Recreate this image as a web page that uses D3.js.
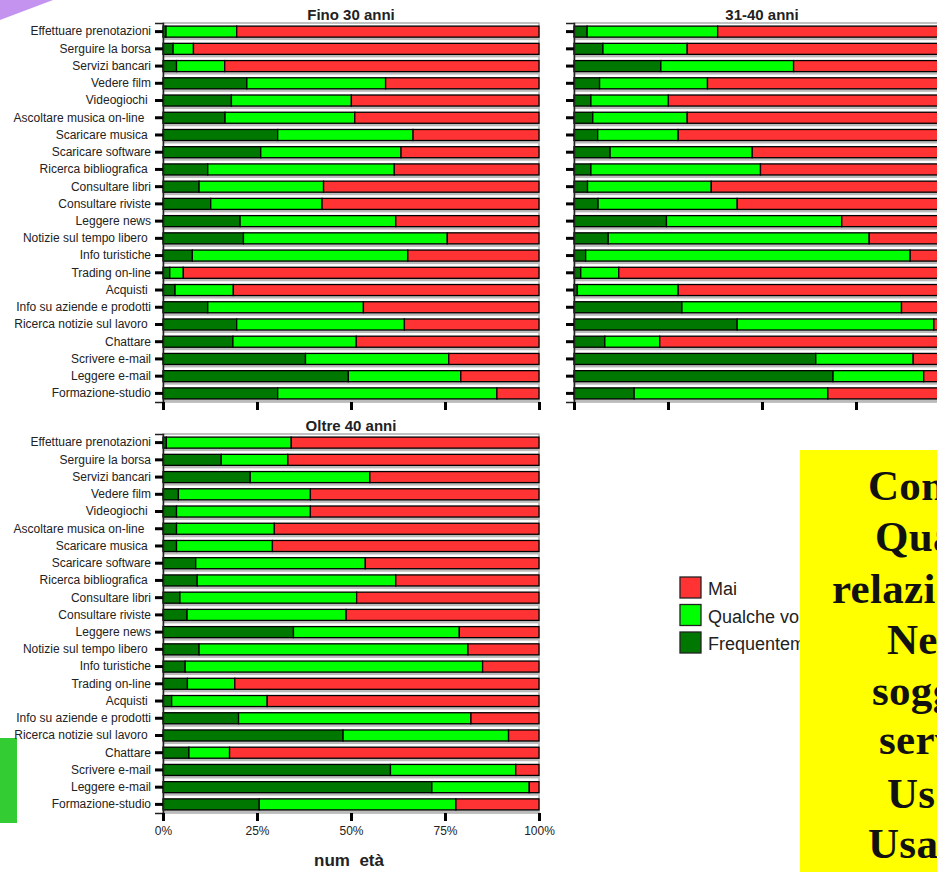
<!DOCTYPE html>
<html>
<head>
<meta charset="utf-8">
<script src="https://cdn.jsdelivr.net/npm/d3@7"></script>
<style>
  html, body { margin: 0; padding: 0; background: #fff; overflow: hidden; }
  svg { display: block; }
  .lbl { font-family: "Liberation Sans", Arial, sans-serif; font-size: 12px; fill: #222; }
  .ttl { font-family: "Liberation Sans", Arial, sans-serif; font-size: 15px; font-weight: bold; fill: #222; }
  .slide { font-family: "Liberation Serif", "DejaVu Serif", serif; font-size: 43px; font-weight: bold; fill: #111; letter-spacing: 0.3px; }
</style>
</head>
<body>
<svg id="chart" width="937" height="872"></svg>
<script>
// categories, top to bottom
const categories = [
  "Effettuare prenotazioni", "Serguire la borsa", "Servizi bancari", "Vedere film",
  "Videogiochi\u00a0", "Ascoltare musica on-line\u00a0\u00a0", "Scaricare musica\u00a0", "Scaricare software",
  "Ricerca bibliografica\u00a0", "Consultare libri", "Consultare riviste", "Leggere news",
  "Notizie sul tempo libero\u00a0", "Info turistiche", "Trading on-line", "Acquisti\u00a0",
  "Info su aziende e prodotti", "Ricerca notizie sul lavoro\u00a0", "Chattare", "Scrivere e-mail",
  "Leggere e-mail", "Formazione-studio"
];

const seriesNames = ["Frequentemente", "Qualche volta", "Mai"];
const seriesColors = ["#007700", "#00ff00", "#ff3333"];
const tickLabels = ["0%", "25%", "50%", "75%", "100%"];
const panelTitles = ["Fino 30 anni", "31-40 anni", "Oltre 40 anni"];

// percentages: frequentemente / qualche volta (mai = rest)
const freqFino30 = [0.8, 2.7, 3.6, 22.3, 18.2, 16.5, 30.5, 26.0, 11.9, 9.6, 12.7,
                    20.5, 21.4, 7.8, 1.8, 3.2, 11.9, 19.6, 18.6, 37.9, 49.3, 30.5];
const qualFino30 = [18.8, 5.4, 12.8, 36.9, 31.9, 34.5, 36.0, 37.3, 49.6, 33.1, 29.6,
                    41.4, 54.2, 57.3, 3.6, 15.5, 41.4, 44.6, 32.8, 38.1, 29.9, 58.3];

const freq3140 = [3.5, 7.7, 23.1, 6.8, 4.5, 5.0, 6.3, 9.6, 4.5, 3.6, 6.4,
                  24.6, 9.1, 3.1, 1.8, 0.9, 28.7, 43.4, 8.2, 64.3, 68.9, 16.0];
const qual3140 = [34.7, 22.4, 35.3, 28.7, 20.6, 25.1, 21.4, 37.8, 45.1, 32.9, 37.0,
                  46.6, 69.4, 86.3, 10.1, 26.8, 58.4, 52.3, 14.6, 25.9, 24.1, 51.5];

const freqOltre40 = [0.9, 15.5, 23.2, 4.1, 3.6, 3.6, 3.6, 8.7, 9.1, 4.5, 6.4,
                     34.7, 9.6, 5.9, 6.5, 2.3, 20.1, 47.9, 6.9, 60.5, 71.5, 25.6];
const qualOltre40 = [33.2, 17.7, 31.8, 35.1, 35.6, 26.0, 25.5, 45.1, 52.8, 47.0, 42.3,
                     44.1, 71.5, 79.1, 12.6, 25.4, 61.8, 44.0, 10.8, 33.3, 25.9, 52.3];

const legendLabels = ["Mai", "Qualche volta", "Frequentemente"];

const slideLines = ["Confronto", "Quali", "relazioni", "Nei", "soggetti", "servizi", "Uso", "Usano"];

const svg = d3.select("#chart");

// decoration from the slide
svg.append("path").attr("d", "M0,0 L53,0 L0,20 Z").attr("fill", "#c493f0");
svg.append("rect").attr("x", 0).attr("y", 738).attr("width", 17).attr("height", 85).attr("fill", "#33cc33");

function buildRows(freq, qual) {
  return categories.map((c, i) => {
    const vals = [freq[i], qual[i], 100 - freq[i] - qual[i]];
    let acc = 0;
    return vals.map((v, k) => {
      const seg = { cat: c, k: k, x0: acc, x1: acc + v };
      acc += v;
      return seg;
    });
  }).flat();
}

function drawPanel(opts) {
  const x = d3.scaleLinear().domain([0, 100]).range([opts.left, opts.left + 376]);
  const y = d3.scaleBand().domain(categories).range([opts.top, opts.top + 379]).paddingInner(0.36).paddingOuter(0.18);
  const g = svg.append("g");

  // frame
  g.append("rect")
    .attr("x", opts.left).attr("y", opts.top)
    .attr("width", 376).attr("height", 379)
    .attr("fill", "none").attr("stroke", "#999").attr("stroke-width", 1.2);

  // light gray band under each bar
  g.selectAll("rect.shadow")
    .data(categories)
    .enter().append("rect")
    .attr("x", x(0)).attr("y", d => y(d) + 1.5)
    .attr("width", x(100) - x(0)).attr("height", y.bandwidth() + 1.5)
    .attr("fill", "#bbb");

  g.selectAll("rect.seg")
    .data(buildRows(opts.freq, opts.qual))
    .enter().append("rect")
    .attr("class", "seg")
    .attr("x", d => x(d.x0))
    .attr("y", d => y(d.cat))
    .attr("width", d => Math.max(0, x(d.x1) - x(d.x0)))
    .attr("height", y.bandwidth())
    .attr("fill", d => seriesColors[d.k])
    .attr("stroke", "#000")
    .attr("stroke-width", 1.3);

  // y axis
  const yAxis = d3.axisLeft(y).tickSize(8).tickPadding(4);
  const ya = g.append("g").attr("transform", `translate(${opts.left},0)`).call(yAxis);
  ya.select(".domain").attr("stroke", "#222").attr("stroke-width", 1.5);
  ya.selectAll(".tick line").attr("stroke", "#000").attr("stroke-width", 3);
  ya.selectAll(".tick text").attr("class", "lbl").attr("font-size", null).attr("font-family", null);
  if (!opts.showLabels) ya.selectAll(".tick text").remove();

  // x axis
  const xAxis = d3.axisBottom(x).tickValues([0, 25, 50, 75, 100])
    .tickFormat((d, i) => tickLabels[i]).tickSize(8).tickPadding(5);
  const xa = g.append("g").attr("transform", `translate(0,${opts.top + 379})`).call(xAxis);
  xa.select(".domain").remove();
  xa.selectAll(".tick line").attr("stroke", "#000").attr("stroke-width", 3);
  xa.selectAll(".tick text").attr("class", "lbl").attr("font-size", null).attr("font-family", null);
  if (!opts.showTicks) xa.selectAll(".tick text").remove();

  g.append("text").attr("class", "ttl")
    .attr("x", x(50)).attr("y", opts.top - 3)
    .attr("text-anchor", "middle").text(opts.title);
}

drawPanel({ left: 163, top: 23, freq: freqFino30, qual: qualFino30, title: panelTitles[0], showLabels: true, showTicks: false });
drawPanel({ left: 574, top: 23, freq: freq3140, qual: qual3140, title: panelTitles[1], showLabels: false, showTicks: false });
drawPanel({ left: 163, top: 434, freq: freqOltre40, qual: qualOltre40, title: panelTitles[2], showLabels: true, showTicks: true });

svg.append("text").attr("class", "ttl").style("font-size", "17px")
  .attr("x", 349).attr("y", 866).attr("text-anchor", "middle").text("num\u00a0\u00a0età");

// legend
const leg = svg.append("g").attr("transform", "translate(680,577)");
legendLabels.forEach((name, i) => {
  const k = seriesNames.length - 1 - i;
  leg.append("rect").attr("x", 0).attr("y", i * 27.5).attr("width", 21).attr("height", 21)
    .attr("fill", seriesColors[k]).attr("stroke", "#222").attr("stroke-width", 1.3);
  leg.append("text").attr("class", "lbl").style("font-size", "18px")
    .attr("x", 28).attr("y", i * 27.5 + 18).text(name);
});

// yellow slide box on top
svg.append("rect").attr("x", 800).attr("y", 450).attr("width", 200).attr("height", 430).attr("fill", "#ffff00");
const slideX = [868, 875, 832, 887, 872, 879, 887, 868];
const slideY = [500, 551, 603, 654, 705, 754, 808, 858];
slideLines.forEach((t, i) => {
  svg.append("text").attr("class", "slide").attr("x", slideX[i]).attr("y", slideY[i]).text(t);
});
</script>
</body>
</html>
